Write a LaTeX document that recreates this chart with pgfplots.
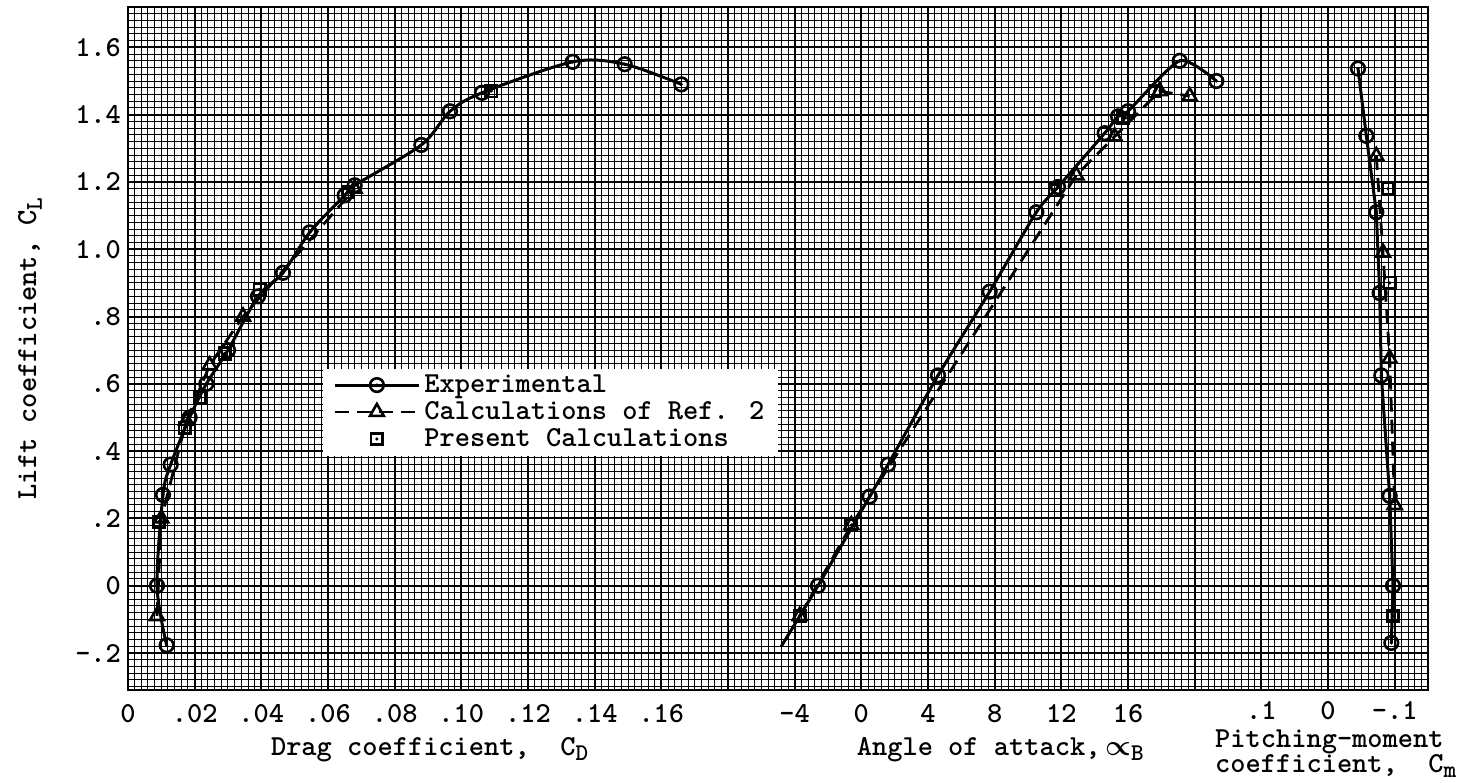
\documentclass[border=0pt]{standalone}
\usepackage{amsmath}
\usepackage{pgfplots}
\pgfplotsset{compat=1.18}

% typewriter lettering used throughout
\newcommand\tfont{\ttfamily\bfseries\fontsize{14.5}{13.5}\selectfont}
\newcommand\sub[1]{\raisebox{-0.45ex}{\fontsize{12}{12}\selectfont #1}}

% circle with centre dot, square with centre dot
\pgfdeclareplotmark{odot}{%
  \pgfpathcircle{\pgfpointorigin}{\pgfplotmarksize}\pgfusepathqstroke
  \pgfpathcircle{\pgfpointorigin}{0.26\pgfplotmarksize}\pgfusepathqfill}
\pgfdeclareplotmark{sdot}{%
  \pgfpathrectangle{\pgfpoint{-0.8\pgfplotmarksize}{-0.8\pgfplotmarksize}}%
    {\pgfpoint{1.6\pgfplotmarksize}{1.6\pgfplotmarksize}}\pgfusepathqstroke
  \pgfpathcircle{\pgfpointorigin}{0.25\pgfplotmarksize}\pgfusepathqfill}

\pgfplotsset{
  legend image code/.code={\draw[mark repeat=2,mark phase=2,#1]
    plot coordinates {(0pt,0pt) (21pt,0pt) (42pt,0pt)};},
  panel/.style={width=650pt,height=341.5pt,scale only axis,
    ymin=-0.31,ymax=1.72,ytick=\empty,
    axis line style={draw=none},
    major tick length=0pt,minor tick length=0pt,
    ticklabel style={font=\tfont},
    xticklabel style={inner sep=1pt,yshift=-5.8pt}},
  expt/.style={black,line width=1.5pt,mark=odot,mark size=3.4pt,
    mark options={solid,line width=1.3pt,fill=black}},
  ref2/.style={black,line width=1.4pt,dash pattern=on 7pt off 4pt,
    mark=triangle,mark size=4pt,mark options={solid,line width=1.3pt}},
  pres/.style={black,only marks,mark=sdot,mark size=3.6pt,
    mark options={line width=1.3pt,fill=black}},
}

\begin{document}
\begin{tikzpicture}
% graph paper, lift-coefficient scale and axis titles
\begin{axis}[width=650pt,height=341.5pt,scale only axis,clip=false,
  xmin=0,xmax=19.5,ymin=-0.31,ymax=1.72,
  xtick={0,1,...,19},xticklabels={},minor xtick={0,0.1,...,19.5},
  ytick={-0.2,0,0.2,0.4,0.6,0.8,1.0,1.2,1.4,1.6},
  yticklabels={-.2,0,.2,.4,.6,.8,1.0,1.2,1.4,1.6},
  minor ytick={-0.30,-0.28,...,1.72},
  grid=both,
  major grid style={black,line width=1.0pt},
  minor grid style={black,line width=0.5pt},
  major tick length=0pt,minor tick length=0pt,
  axis line style={black,line width=1pt},
  ticklabel style={font=\tfont},
  ylabel={Lift coefficient, C\sub{L}},
  ylabel style={font=\tfont,at={(axis description cs:-0.0754,0.5)},anchor=center},
]
\node[anchor=base,font=\tfont,yshift=-32.5pt] at (rel axis cs:0.232,0)
  {Drag coefficient,\ \ C\sub{D}};
\node[anchor=base,font=\tfont,yshift=-32.5pt] at (rel axis cs:0.671,0)
  {Angle of attack,\,$\boldsymbol{\propto}$\sub{B}};
\node[anchor=north west,align=left,yshift=-19.5pt,inner sep=0pt,
  font=\ttfamily\bfseries\fontsize{14.5}{12.5}\selectfont]
  at (rel axis cs:0.836,0) {Pitching-moment\\coefficient,\ \ C\sub{m}};
\end{axis}

% drag polar
\begin{axis}[panel,xmin=0,xmax=0.39,
  xtick={0,0.02,0.04,0.06,0.08,0.10,0.12,0.14,0.16},
  xticklabels={0,.02,.04,.06,.08,.10,.12,.14,.16},
  legend style={at={(0.15,0.471)},anchor=north west,draw=none,fill=white,
    font=\tfont,inner xsep=5pt,inner ysep=1pt,row sep=-1pt},
  legend cell align=left]
\addplot[expt,smooth,tension=0.5] coordinates {
  (0.0116,-0.177) (0.0087,0.0) (0.0105,0.27) (0.0128,0.36) (0.0185,0.50)
  (0.0235,0.60) (0.0300,0.70) (0.0390,0.86) (0.0465,0.93) (0.0545,1.05)
  (0.0650,1.16) (0.0680,1.19) (0.0880,1.31) (0.0966,1.41) (0.1062,1.465)
  (0.1334,1.557) (0.1490,1.55) (0.1660,1.49)};
\addlegendentry{Experimental}
\addplot[ref2] coordinates {
  (0.0087,-0.09) (0.0100,0.20) (0.0175,0.49) (0.0245,0.655) (0.0345,0.80)
  (0.0680,1.18)};
\addlegendentry{Calculations of Ref. 2}
\addplot[pres] coordinates {
  (0.0092,0.19) (0.0170,0.47) (0.0215,0.56) (0.0290,0.69) (0.0395,0.88)
  (0.0660,1.17) (0.1090,1.47)};
\addlegendentry{Present Calculations}
\end{axis}

% lift curve
\begin{axis}[panel,xmin=-44,xmax=34,
  xtick={-4,0,4,8,12,16},xticklabels={-4,0,4,8,12,16}]
\addplot[expt,smooth,tension=0.4,mark indices={2,...,13}] coordinates {
  (-4.8,-0.18) (-2.6,0.0) (0.5,0.265) (1.6,0.36) (4.6,0.625) (7.7,0.874)
  (10.5,1.11) (11.8,1.185) (14.6,1.345) (15.4,1.395) (16.0,1.41)
  (19.1,1.56) (21.3,1.50)};
\addplot[ref2] coordinates {
  (-3.7,-0.09) (-0.6,0.18) (12.9,1.22) (15.2,1.335) (17.9,1.47) (19.7,1.455)};
\addplot[pres] coordinates {
  (-3.7,-0.09) (-0.6,0.18) (11.6,1.175) (15.7,1.39) (17.6,1.47)};
\end{axis}

% pitching moment
\begin{axis}[panel,x dir=reverse,xmin=-0.15,xmax=1.8,
  xtick={0.1,0,-0.1},xticklabels={.1,0,-.1},
  xticklabel style={yshift=1.5pt}]
\addplot[expt] coordinates {
  (-0.045,1.537) (-0.0575,1.337) (-0.0725,1.11) (-0.0775,0.87)
  (-0.080,0.625) (-0.0925,0.267) (-0.0975,0.0) (-0.095,-0.17)};
\addplot[ref2] coordinates {
  (-0.0725,1.277) (-0.0825,0.99) (-0.0925,0.675) (-0.100,0.24)};
\addplot[pres] coordinates {
  (-0.090,1.18) (-0.0925,0.90) (-0.0975,-0.09)};
\end{axis}

\pgfresetboundingbox
\path[use as bounding box] (-64pt,-46pt) rectangle (669pt,345pt);
\end{tikzpicture}
\end{document}
